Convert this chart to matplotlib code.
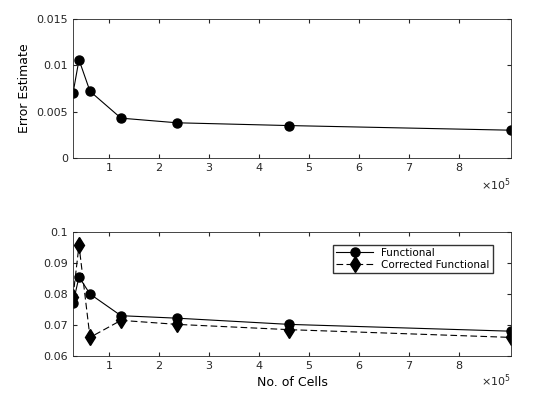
import matplotlib
matplotlib.use("Agg")
import matplotlib.pyplot as plt

cells = [28000, 40000, 62000, 124000, 236000, 460000, 904000]
err = [0.0070, 0.0106, 0.0072, 0.0043, 0.0038, 0.0035, 0.0030]
func = [0.0770, 0.0855, 0.0800, 0.0730, 0.0722, 0.0702, 0.0680]
corr = [0.0790, 0.0957, 0.0660, 0.0715, 0.0702, 0.0685, 0.0660]

plt.rcParams['font.family'] = 'DejaVu Sans'
plt.rcParams['font.size'] = 8
fig = plt.figure(figsize=(5.6, 4.2), dpi=100)
W, H = 560, 420
ax1 = fig.add_axes([73/W, 1-158/H, 438/W, 139/H])
ax2 = fig.add_axes([73/W, 1-356/H, 438/W, 124/H])

ax1.plot(cells, err, 'k-o', lw=0.8, ms=6.5)
ax1.set_ylim(0, 0.015)
ax1.set_yticks([0, 0.005, 0.01, 0.015])
ax1.set_yticklabels(['0', '0.005', '0.01', '0.015'])
ax1.set_ylabel('Error Estimate', fontsize=9)

ax2.plot(cells, func, 'k-o', lw=0.8, ms=6.5, label='Functional')
ax2.plot(cells, corr, 'k--', marker='d', lw=0.8, ms=8, dashes=(6, 3),
         label='Corrected Functional')
ax2.set_ylim(0.06, 0.1)
ax2.set_yticks([0.06, 0.07, 0.08, 0.09, 0.1])
ax2.set_yticklabels(['0.06', '0.07', '0.08', '0.09', '0.1'])
ax2.set_xlabel('No. of Cells', fontsize=9)
ax2.legend(loc='upper right', bbox_to_anchor=(0.97, 0.94), fancybox=False,
           edgecolor='k', fontsize=7.5, handlelength=3.5, borderpad=0.3,
           labelspacing=0.2)

for ax in (ax1, ax2):
    ax.set_xlim(cells[0], cells[-1])
    ticks = [1e5*i for i in range(1, 9)]
    ax.set_xticks(ticks)
    ax.set_xticklabels([str(i) for i in range(1, 9)])
    ax.tick_params(direction='in', colors='#262626', length=3, top=True, right=True)
    for s in ax.spines.values():
        s.set_color('#262626'); s.set_linewidth(0.6)
    ax.text(1.0, -0.13, r'$\times10^5$', transform=ax.transAxes, ha='right', va='top', fontsize=8, color='#262626')

fig.savefig('out.png', dpi=100)
